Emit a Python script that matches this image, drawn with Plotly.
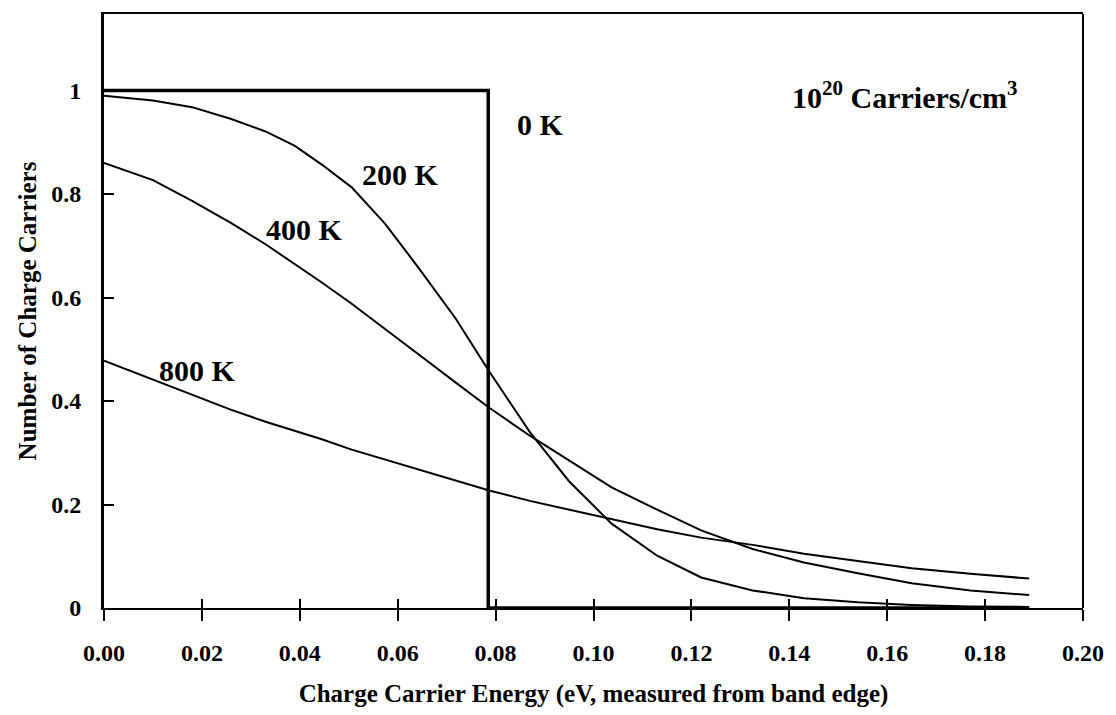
import plotly.graph_objects as go

# ---- data ----
energy = [0, 0.01, 0.018, 0.026, 0.033, 0.039, 0.0445, 0.0506, 0.0574, 0.0643,
          0.0718, 0.0787, 0.087, 0.095, 0.1037, 0.113, 0.122, 0.1325, 0.143,
          0.154, 0.165, 0.177, 0.189]
n_200K = [0.99, 0.981, 0.968, 0.945, 0.921, 0.893, 0.857, 0.813, 0.743, 0.657,
          0.56, 0.457, 0.34, 0.245, 0.163, 0.101, 0.059, 0.034, 0.019,
          0.011, 0.006, 0.003, 0.002]
n_400K = [0.86, 0.827, 0.787, 0.744, 0.703, 0.665, 0.629, 0.588, 0.54, 0.49,
          0.436, 0.387, 0.333, 0.285, 0.233, 0.19, 0.150, 0.114, 0.088,
          0.067, 0.048, 0.034, 0.025]
n_800K = [0.478, 0.442, 0.413, 0.383, 0.36, 0.343, 0.326, 0.306, 0.287, 0.267,
          0.246, 0.227, 0.207, 0.19, 0.172, 0.152, 0.136, 0.122, 0.105,
          0.091, 0.077, 0.066, 0.057]
energy_0K = [0, 0.0785, 0.0785, 0.189]
n_0K = [1, 1, 0, 0]

labels = ["0 K", "200 K", "400 K", "800 K"]
label_x = [0.0892, 0.0605, 0.041, 0.0192]
label_y = [0.935, 0.838, 0.731, 0.459]
note_text = "10<sup>20</sup> Carriers/cm<sup>3</sup>"
note_x, note_y = 0.1636, 0.992

x_ticks = [0, 0.02, 0.04, 0.06, 0.08, 0.10, 0.12, 0.14, 0.16, 0.18, 0.20]
y_ticks = [0, 0.2, 0.4, 0.6, 0.8, 1.0]
y_ticktext = ["0", "0.2", "0.4", "0.6", "0.8", "1"]

FONT = "Liberation Serif, Times New Roman, serif"

fig = go.Figure()
fig.add_trace(go.Scatter(x=energy_0K, y=n_0K, mode="lines",
                         line=dict(color="black", width=3.5), name="0 K"))
for ys, nm in [(n_200K, "200 K"), (n_400K, "400 K"), (n_800K, "800 K")]:
    fig.add_trace(go.Scatter(x=energy, y=ys, mode="lines",
                             line=dict(color="black", width=2), name=nm))

# invisible trace on overlay axis for inner half of crossing x ticks
fig.add_trace(go.Scatter(x=[0, 0.2], y=[0, 0], xaxis="x2", mode="lines",
                         line=dict(width=0), hoverinfo="skip", showlegend=False))

for t, x, y in zip(labels, label_x, label_y):
    fig.add_annotation(x=x, y=y, text=t, showarrow=False,
                       font=dict(size=30, family=FONT, color="black", weight="bold"))
fig.add_annotation(x=note_x, y=note_y, text=note_text, showarrow=False,
                   font=dict(size=30, family=FONT, color="black", weight="bold"))

fig.add_shape(type="line", xref="paper", yref="paper", x0=1, x1=1, y0=0, y1=1,
              line=dict(color="black", width=2))

fig.update_layout(
    width=1116, height=715,
    margin=dict(l=104, r=23, t=14, b=98),
    paper_bgcolor="white", plot_bgcolor="white",
    showlegend=False,
    font=dict(family=FONT, color="black", size=24, weight="bold"),
    xaxis=dict(range=[0, 0.2], tickvals=x_ticks, tickformat=".2f",
               ticks="outside", ticklen=11, tickwidth=2, tickcolor="black",
               showline=True, linewidth=2, linecolor="black", mirror=True,
               showgrid=False, zeroline=False,
               tickfont=dict(size=24), ticklabelstandoff=11,
               title=dict(text="Charge Carrier Energy (eV, measured from band edge)",
                          font=dict(size=25), standoff=20)),
    xaxis2=dict(range=[0, 0.2], tickvals=x_ticks, overlaying="x", anchor="y",
                side="bottom", ticks="inside", ticklen=9, tickwidth=2,
                tickcolor="black", showticklabels=False, showgrid=False,
                zeroline=False, showline=False),
    yaxis=dict(range=[0, 1.148], tickvals=y_ticks, ticktext=y_ticktext,
               ticks="inside", ticklen=10, tickwidth=2, tickcolor="black",
               showline=True, linewidth=3, linecolor="black",
               showgrid=False, zeroline=False,
               tickfont=dict(size=24), ticklabelstandoff=15,
               title=dict(text="Number of Charge Carriers", font=dict(size=25), standoff=8)),
)

fig.write_html(
    "out.html",
    config={"displayModeBar": False},
    post_script=("document.body.style.margin='0';"
                 "document.body.style.overflow='hidden';"
                 "document.documentElement.style.overflow='hidden';"),
)
